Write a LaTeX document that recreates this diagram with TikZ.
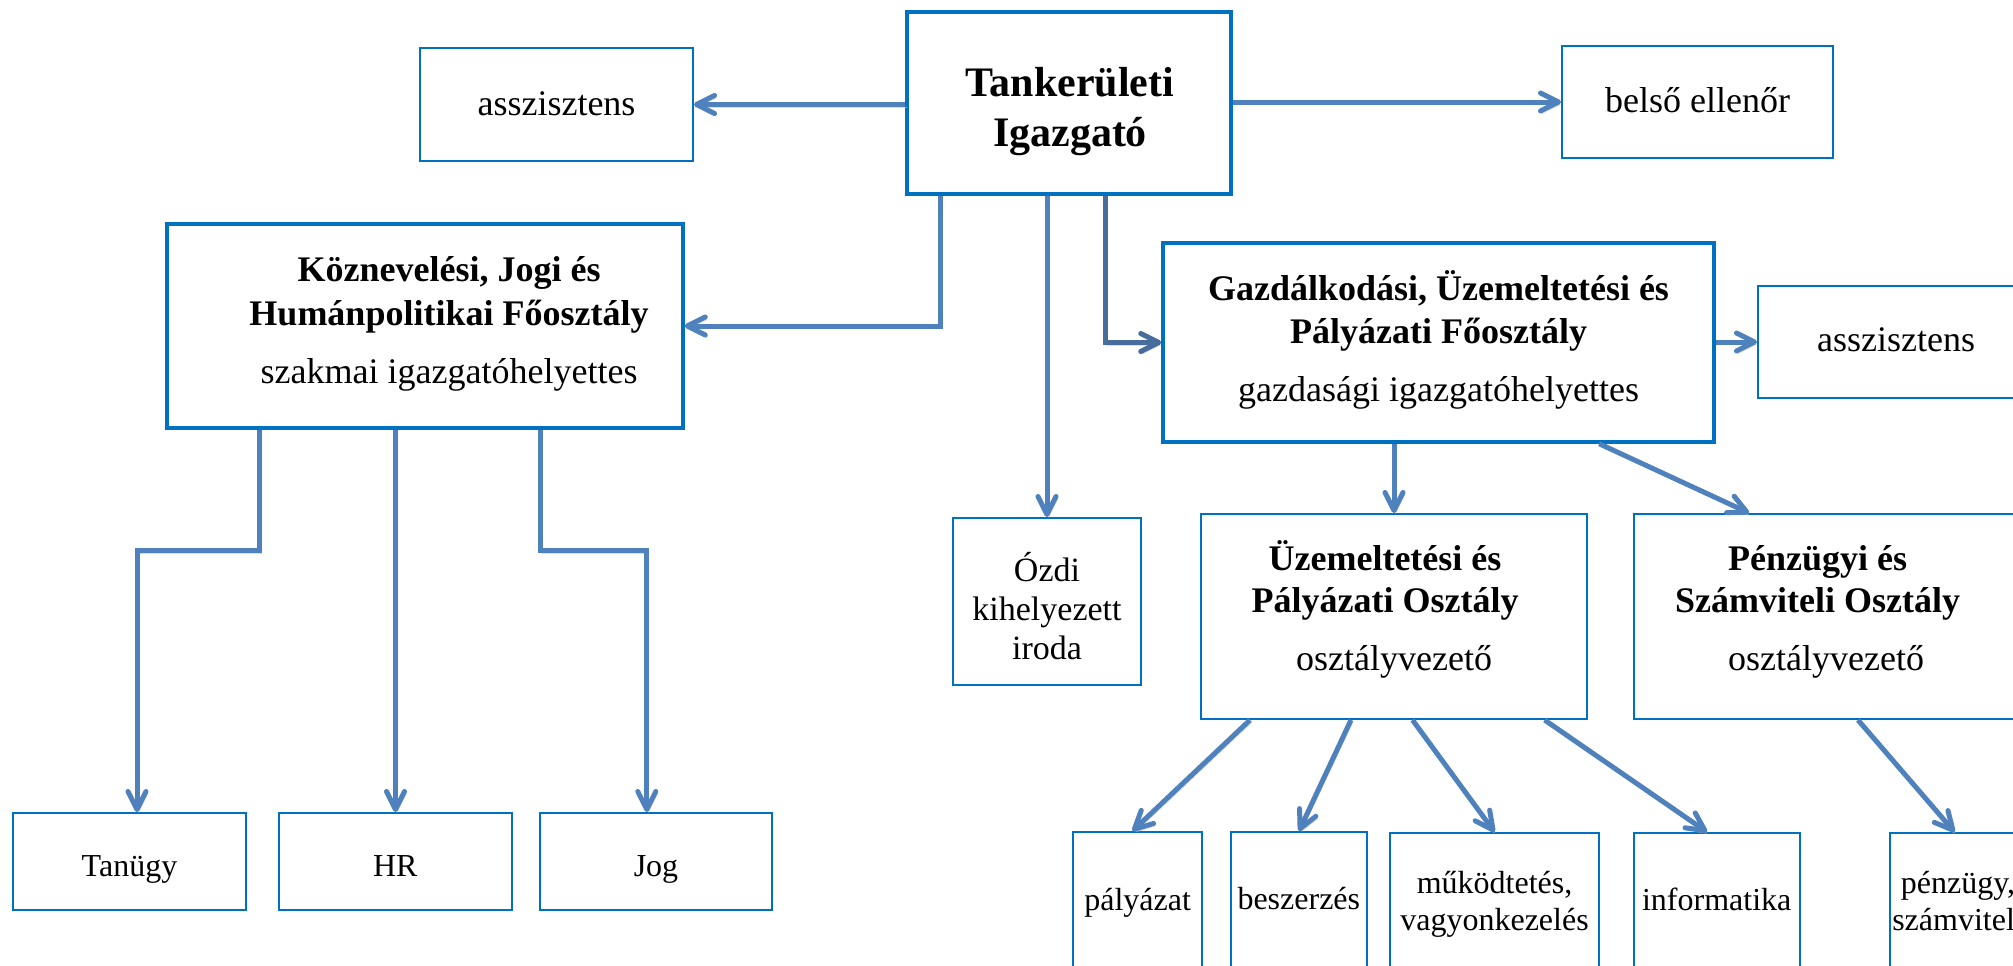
\documentclass[tikz,border=0pt]{standalone}
\usepackage{fontspec}
\setmainfont{Liberation Serif}
\usetikzlibrary{arrows.meta,calc,fit}
\definecolor{boxblue}{RGB}{0,112,192}
\definecolor{arrblue}{RGB}{79,129,189}
\definecolor{arrdark}{RGB}{72,108,156}
\begin{document}
\begin{tikzpicture}[x=0.5pt,y=-0.5pt,
  boxthick/.style={draw=boxblue, line width=1.75pt, fill=white, inner sep=0pt},
  boxthin/.style={draw=boxblue, line width=1pt, fill=white, inner sep=0pt},
  conn/.style={draw=arrblue, line width=2.5pt, line join=miter,
    -{Straight Barb[length=9pt,width=9pt,round]},
    preaction={draw=black!22, opacity=0.6, transform canvas={shift={(0.8pt,-1.3pt)}}}},
  conndark/.style={conn, draw=arrdark},
  ttitle/.style={anchor=base, inner sep=0pt, font=\fontsize{21}{25}\selectfont\bfseries},
  tbold/.style={anchor=base, inner sep=0pt, font=\fontsize{18}{22}\selectfont\bfseries},
  treg/.style={anchor=base, inner sep=0pt, font=\fontsize{18}{22}\selectfont},
  tmid/.style={anchor=base, inner sep=0pt, font=\fontsize{17}{20}\selectfont},
  tsmall/.style={anchor=base, inner sep=0pt, font=\fontsize{16}{19}\selectfont}
]
\useasboundingbox (0,0) rectangle (2013,965);
\clip (0,0) rectangle (2013,965);
\fill[white] (0,0) rectangle (2013,965);

% boxes
\node[boxthick, fit={(907,12) (1231,194)}] (igazgato) {};
\node[boxthin, fit={(420,48) (693,161)}] (asszL) {};
\node[boxthin, fit={(1562,46) (1833,158)}] (belso) {};
\node[boxthick, fit={(167,224) (683,428)}] (koz) {};
\node[boxthick, fit={(1163,243) (1714,442)}] (gazd) {};
\node[boxthin, fit={(1758,286) (2034,398)}] (asszR) {};
\node[boxthin, fit={(953,518) (1141,685)}] (ozdi) {};
\node[boxthin, fit={(1201,514) (1587,719)}] (uzem) {};
\node[boxthin, fit={(1634,514) (2018,719)}] (penz) {};
\node[boxthin, fit={(13,813) (246,910)}] (tanugy) {};
\node[boxthin, fit={(279,813) (512,910)}] (hr) {};
\node[boxthin, fit={(540,813) (772,910)}] (jog) {};
\node[boxthin, fit={(1073,832) (1202,985)}] (pal) {};
\node[boxthin, fit={(1231,832) (1367,985)}] (besz) {};
\node[boxthin, fit={(1390,833) (1599,985)}] (mukod) {};
\node[boxthin, fit={(1634,833) (1800,985)}] (info) {};
\node[boxthin, fit={(1890,833) (2027,985)}] (penzugy) {};

% texts
\node[ttitle] (igazgato-1) at (1070,96.7) {Tankerületi};
\node[ttitle] (igazgato-2) at (1070,146.7) {Igazgató};
\node[treg] (asszL-t) at (556.5,115) {asszisztens};
\node[treg] (belso-t) at (1697.5,112.7) {belső ellenőr};
\node[tbold] (koz-1) at (449,281) {Köznevelési, Jogi és};
\node[tbold] (koz-2) at (449,325) {Humánpolitikai Főosztály};
\node[treg] (koz-3) at (449,383.3) {szakmai igazgatóhelyettes};
\node[tbold] (gazd-1) at (1438.5,300) {Gazdálkodási, Üzemeltetési és};
\node[tbold] (gazd-2) at (1438.5,343.3) {Pályázati Főosztály};
\node[treg] (gazd-3) at (1438.5,401.7) {gazdasági igazgatóhelyettes};
\node[treg] (asszR-t) at (1896,351.7) {asszisztens};
\node[tmid] (ozdi-1) at (1047,581.7) {Ózdi};
\node[tmid] (ozdi-2) at (1047,620.7) {kihelyezett};
\node[tmid] (ozdi-3) at (1047,659.3) {iroda};
\node[tbold] (uzem-1) at (1385,570) {Üzemeltetési és};
\node[tbold] (uzem-2) at (1385,612.7) {Pályázati Osztály};
\node[treg] (uzem-3) at (1394,670.7) {osztályvezető};
\node[tbold] (penz-1) at (1817.5,570) {Pénzügyi és};
\node[tbold] (penz-2) at (1817.5,612.7) {Számviteli Osztály};
\node[treg] (penz-3) at (1826,670.7) {osztályvezető};
\node[tsmall] (tanugy-t) at (129.5,876) {Tanügy};
\node[tsmall] (hr-t) at (395.3,876) {HR};
\node[tsmall] (jog-t) at (656,876) {Jog};
\node[tsmall] (pal-t) at (1137.6,910) {pályázat};
\node[tsmall] (besz-t) at (1298.8,909.3) {beszerzés};
\node[tsmall] (mukod-1) at (1494.5,893.3) {működtetés,};
\node[tsmall] (mukod-2) at (1494.5,930) {vagyonkezelés};
\node[tsmall] (info-t) at (1716.7,910) {informatika};
\node[tsmall] (penzugy-1) at (1958,893.3) {pénzügy,};
\node[tsmall] (penzugy-2) at (1958,930) {számviteli};

% connectors from the director
\draw[conn] (igazgato.west |- asszL.east) -- (asszL.east);
\draw[conn] (igazgato.east |- belso.west) -- (belso.west);
\draw[conn] ($(igazgato.south west)+(35,0)$) |- (koz.east);
\draw[conn] (igazgato.south -| ozdi.north) -- (ozdi.north);
\draw[conndark] ($(igazgato.south west)+(200,0)$) |- (gazd.west);

% from Koznevelesi
\draw[conn] ($(koz.south west)+(94.5,0)$) -- ++(0,121) -| ($(tanugy.north west)+(125,0)$);
\draw[conn] (koz.south -| hr.north) -- (hr.north);
\draw[conn] ($(koz.south west)+(375.7,0)$) -- ++(0,121) -| ($(jog.north west)+(107.8,0)$);

% from Gazdalkodasi
\draw[conn] (gazd.east |- asszR.west) -- (asszR.west);
\draw[conn] (gazd.south -| uzem.north) -- (uzem.north);
\draw[conn] ($(gazd.south west)+(438,0)$) -- ($(penz.north west)+(116,0)$);

% from Uzemeltetesi
\draw[conn] ($(uzem.south west)+(50,0)$) -- ($(pal.north)+(-5,0)$);
\draw[conn] ($(uzem.south west)+(151,0)$) -- (besz.north);
\draw[conn] ($(uzem.south west)+(212.5,0)$) -- (mukod.north);
\draw[conn] ($(uzem.south west)+(344.6,0)$) -- ($(info.north)+(-10,0)$);

% from Penzugyi
\draw[conn] ($(penz.south west)+(225,0)$) -- ($(penzugy.north)+(-4,0)$);
\end{tikzpicture}
\end{document}
